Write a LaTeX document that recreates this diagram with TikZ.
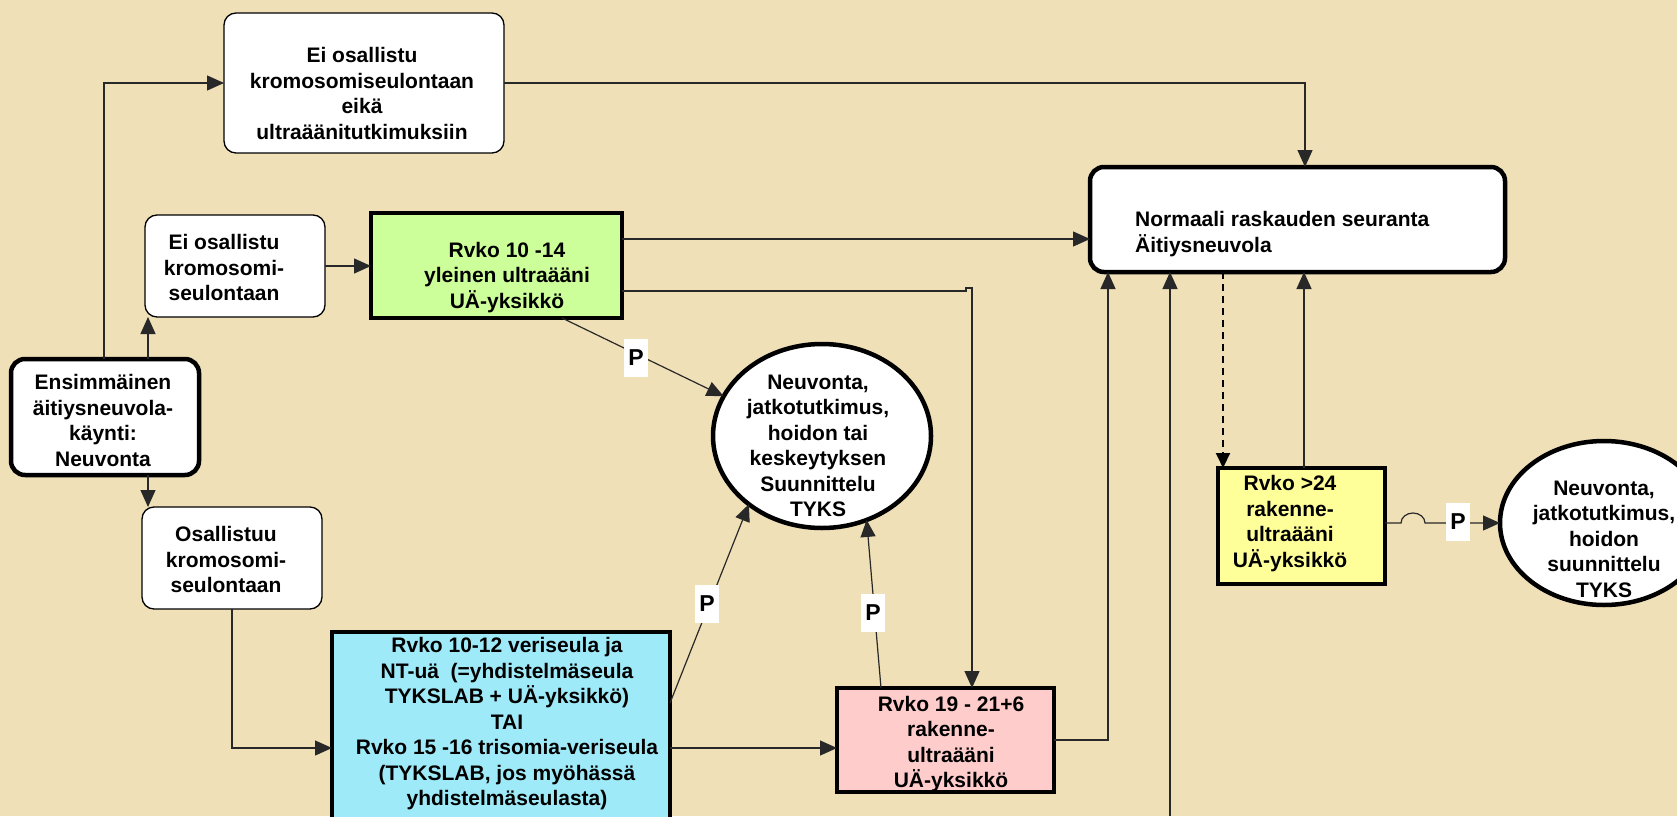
\documentclass[tikz,border=0pt]{standalone}
\usepackage{fontspec}
\setmainfont{Liberation Sans}
\usetikzlibrary{arrows.meta,shapes.geometric}
\definecolor{bgc}{RGB}{239,224,183}
\definecolor{greenc}{RGB}{204,255,153}
\definecolor{cyanc}{RGB}{158,234,248}
\definecolor{pinkc}{RGB}{255,204,204}
\definecolor{yellowc}{RGB}{255,255,153}
\definecolor{linec}{RGB}{40,40,40}
\begin{document}
\begin{tikzpicture}[x=1pt,y=-1pt,
  conn/.style={line width=1.2pt, draw=linec, -{Triangle[length=17pt,width=15pt]}},
  dashconn/.style={line width=2pt, draw=black, dash pattern=on 7pt off 5pt, -{Triangle[length=15pt,width=14pt]}},
  shp/.style={inner sep=0pt, outer sep=0pt},
  thinbox/.style={shp, draw=black, line width=1.3pt, fill=white, rounded corners=12pt},
  thickround/.style={shp, draw=black, line width=4.5pt, fill=white, rounded corners=14pt},
  thickbox/.style={shp, draw=black, line width=4pt},
  oval/.style={shp, ellipse, draw=black, line width=4.5pt, fill=white},
  txt/.style={inner sep=0pt, align=center, font=\fontsize{21}{25.5}\selectfont\bfseries},
  ltxt/.style={inner sep=0pt, align=left, anchor=west, font=\fontsize{21}{25.5}\selectfont\bfseries},
  plab/.style={fill=white, inner sep=0pt, minimum width=24pt, minimum height=38pt, font=\fontsize{23}{23}\selectfont\bfseries}
]
\useasboundingbox (0,0) rectangle (1677,816);
\fill[bgc] (0,0) rectangle (1677,816);
\clip (0,0) rectangle (1677,816);

% boxes
\node[thinbox, minimum width=280pt, minimum height=140pt] (t1) at (364,83) {};
\node[thinbox, minimum width=180pt, minimum height=102pt] (ei) at (235,266) {};
\node[thickbox, fill=greenc, minimum width=251pt, minimum height=105pt] (green) at (496.5,265.5) {};
\node[thickround, minimum width=188pt, minimum height=116pt] (ens) at (105,417) {};
\node[thinbox, minimum width=180pt, minimum height=102pt] (osa) at (232,558) {};
\node[thickbox, fill=cyanc, minimum width=338pt, minimum height=232pt] (cyan) at (501,748) {};
\node[thickbox, fill=pinkc, minimum width=217pt, minimum height=104pt] (pink) at (945.5,740) {};
\node[thickbox, fill=yellowc, minimum width=167pt, minimum height=116pt] (yel) at (1301.5,526) {};
\node[thickround, minimum width=415pt, minimum height=105pt] (norm) at (1297.5,219.5) {};
\node[oval, minimum width=218pt, minimum height=184pt] (c1) at (822,436) {};
\node[oval, minimum width=208pt, minimum height=164pt] (c2) at (1604,523) {};

% texts
\node[txt] (t1T) at (362,93.5) {Ei osallistu\\kromosomiseulontaan\\eikä\\ultraäänitutkimuksiin};
\node[txt] (eiT) at (224,267.5) {Ei osallistu\\kromosomi-\\seulontaan};
\node[txt] (greenT) at (507,277.5) {Rvko 10 -14\\yleinen ultraääni\\UÄ-yksikkö};
\node[txt] (ensT) at (103,420.5) {Ensimmäinen\\äitiysneuvola-\\käynti:\\Neuvonta};
\node[txt] (osaT) at (226,559.5) {Osallistuu\\kromosomi-\\seulontaan};
\node[txt] (cyanT) at (507,724) {Rvko 10-12 veriseula ja\\NT-uä~~(=yhdistelmäseula\\TYKSLAB + UÄ-yksikkö)\\TAI\\Rvko 15 -16 trisomia-veriseula\\(TYKSLAB, jos myöhässä\\yhdistelmäseulasta)};
\node[txt] (pinkT) at (951,744) {Rvko 19 - 21+6\\rakenne-\\ultraääni\\UÄ-yksikkö};
\node[txt] (yelT) at (1290,523.5) {Rvko >24\\rakenne-\\ultraääni\\UÄ-yksikkö};
\node[ltxt] (normT) at (1135,234) {Normaali raskauden seuranta\\Äitiysneuvola};
\node[txt] (c1T) at (818,446) {Neuvonta,\\jatkotutkimus,\\hoidon tai\\keskeytyksen\\Suunnittelu\\TYKS};
\node[txt] (c2T) at (1604,539) {Neuvonta,\\jatkotutkimus,\\hoidon\\suunnittelu\\TYKS};

% connector anchor points
\coordinate (e1) at ([xshift=-1pt]ens.north);
\coordinate (e2) at ([xshift=43pt]ens.north);
\coordinate (e3) at ([xshift=43pt]ens.south);
\coordinate (n1) at ([xshift=7.5pt]norm.north);
\coordinate (g1) at ([yshift=26.5pt]green.east);
\coordinate (g2) at ([yshift=-25.5pt]green.east);
\coordinate (g3) at ([xshift=65.5pt]green.south);
\coordinate (p1) at ([xshift=26.5pt]pink.north);
\coordinate (p2) at ([xshift=-64.5pt]pink.north);
\coordinate (cy1) at ([yshift=45pt]cyan.east);
\coordinate (n2) at ([xshift=-189.5pt]norm.south);
\coordinate (n3) at ([xshift=-127.5pt]norm.south);
\coordinate (n4) at ([xshift=-74.5pt]norm.south);
\coordinate (y1) at ([xshift=2.5pt]yel.north);
\coordinate (bot) at (1170,816);

% connectors
\draw[conn] (e1) |- (t1.west);
\draw[conn] (e2) -- (e2 |- ei.south);
\draw[conn] (ei.east) -- (ei.east -| green.west);
\draw[conn] (t1.east) -| (n1);
\draw[conn] (g1) -- (g1 -| norm.west);
\draw[conn] (g2) -- (966,291) -- (966,288) -- (972,288) -- (p1);
\draw[conn] (g3) -- (c1.158);
\draw[conn] (e3) -- (e3 |- osa.north);
\draw[conn] (osa.south) |- (cyan.west);
\draw[conn] (cy1) -- (c1.223);
\draw[conn] (cyan.east) -- (cyan.east -| pink.west);
\draw[conn] (p2) -- (c1.298);
\draw[conn] (pink.east) -| (n2);
\draw[conn] (bot) -- (n3);
\draw[dashconn] (n4) -- (n4 |- yel.north);
\draw[conn] (y1) -- (y1 |- norm.south);
\draw[conn] (yel.east |- c2.west) -- (1401,523) arc[start angle=180, end angle=0, x radius=12pt, y radius=10pt] -- (c2.west);

% P labels
\node[plab] (P1) at (636,358) {P};
\node[plab] (P2) at (707,604) {P};
\node[plab] (P3) at (873,613) {P};
\node[plab] (P4) at (1458,522) {P};
\end{tikzpicture}
\end{document}
